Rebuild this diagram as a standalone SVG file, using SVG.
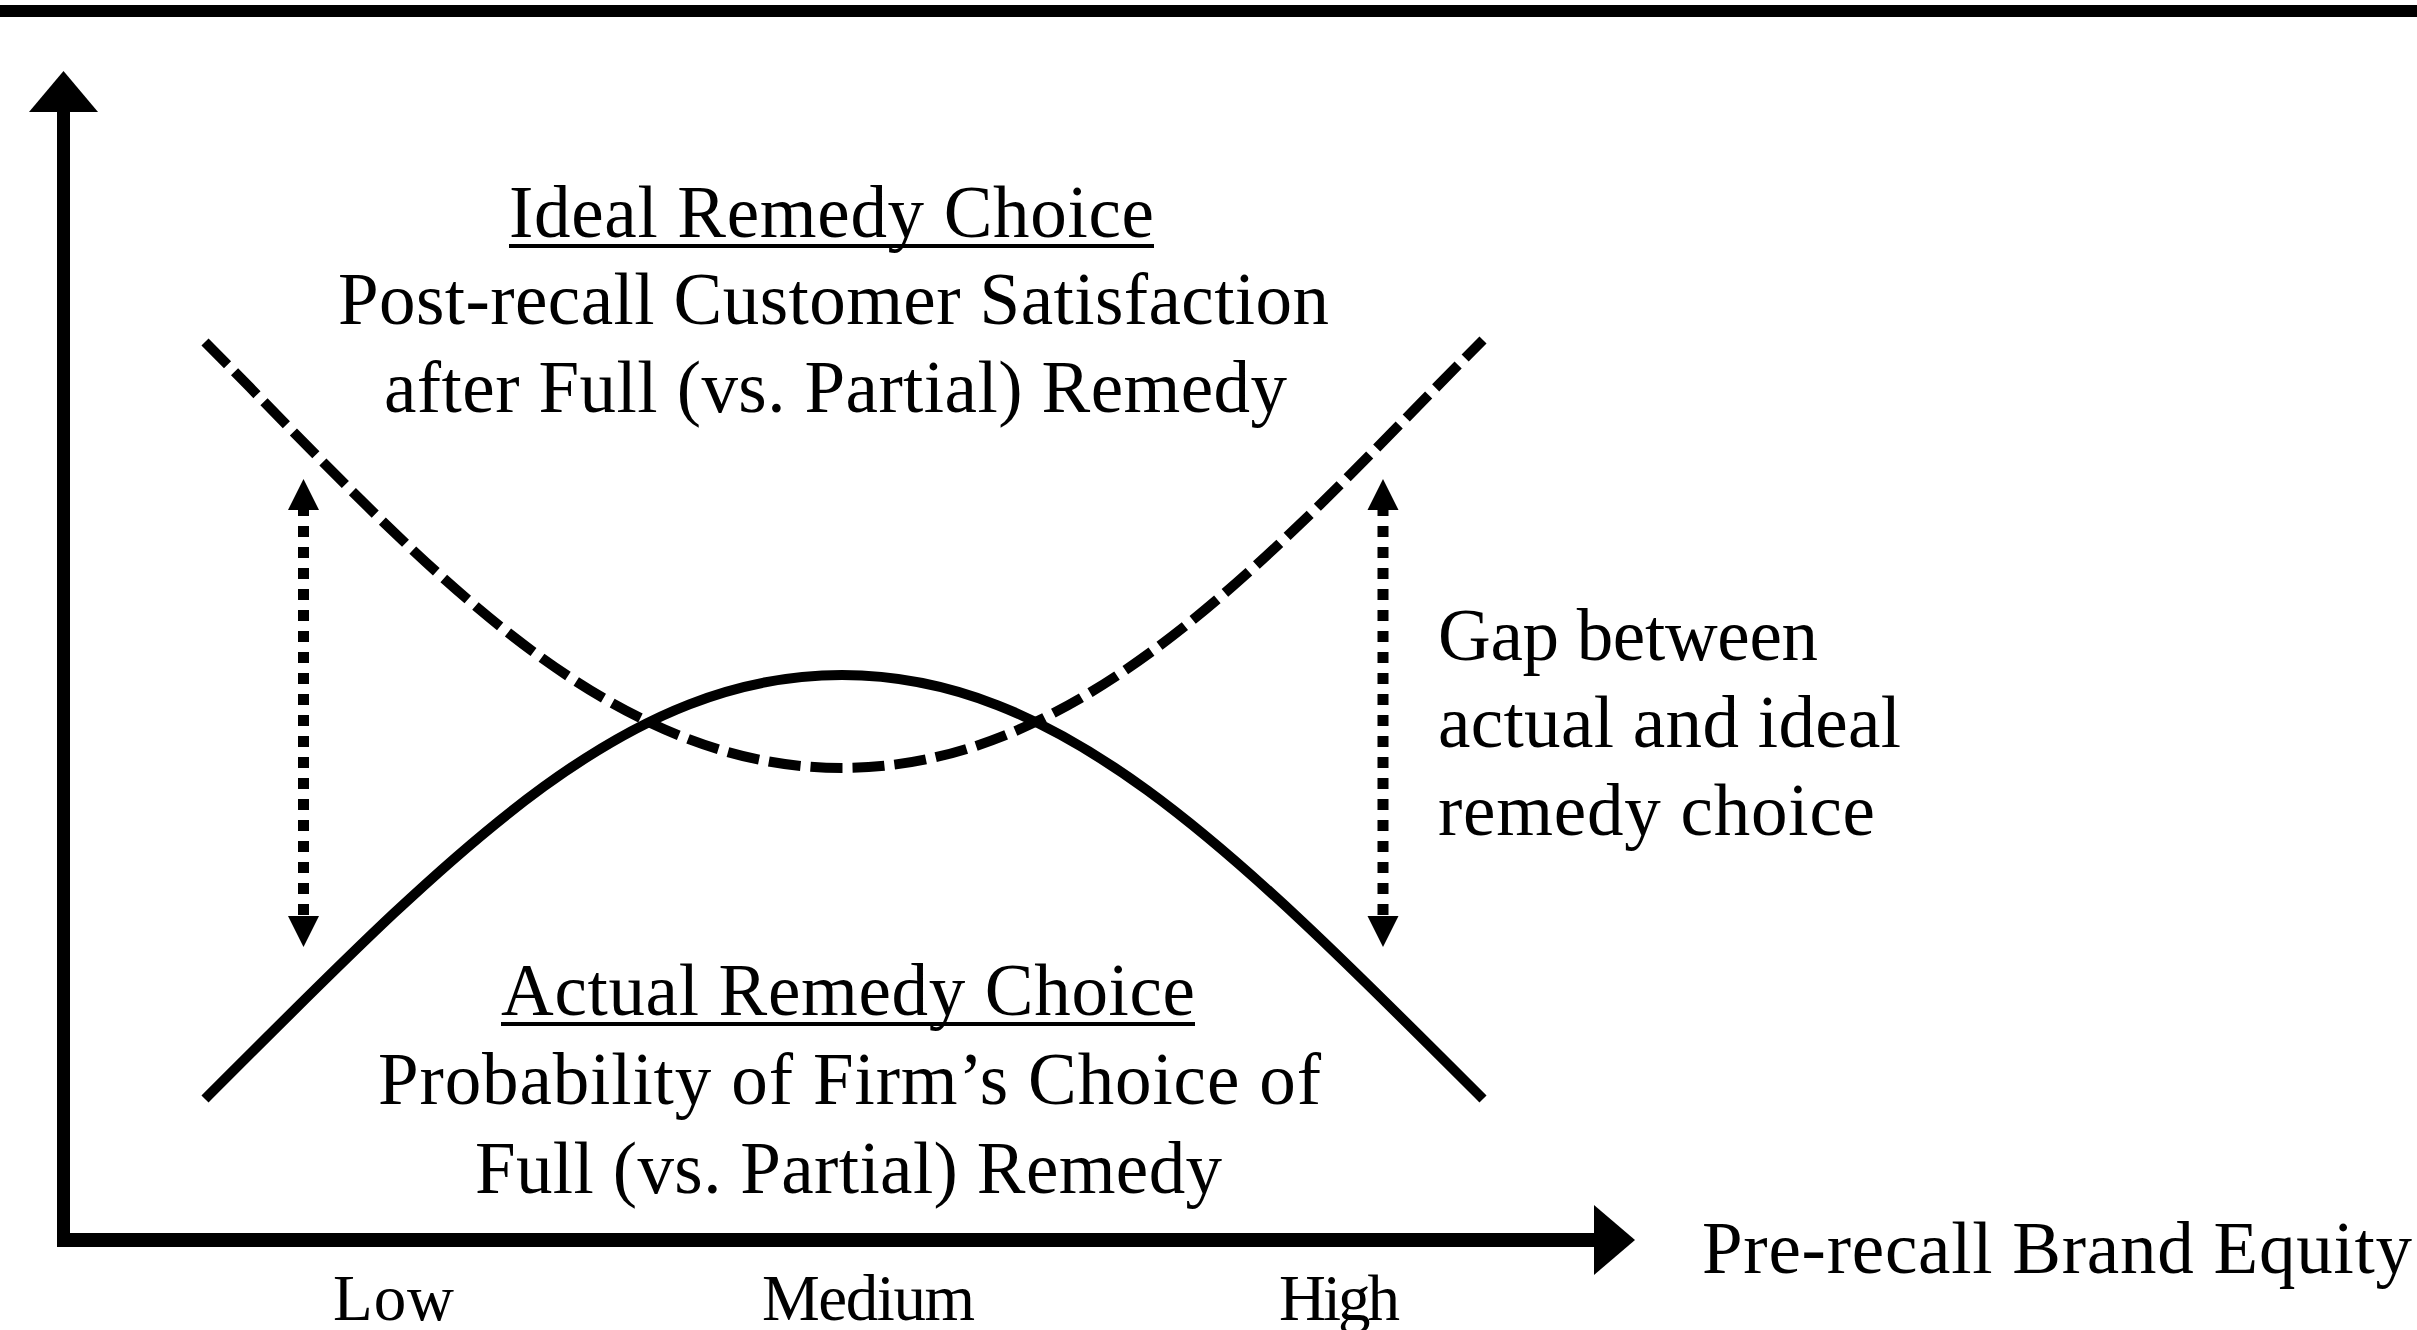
<svg xmlns="http://www.w3.org/2000/svg" width="2417" height="1330" viewBox="0 0 2417 1330">
<style>
text{font-family:"Liberation Serif","Times New Roman",serif;fill:#000}
.t{font-size:73px}
.s{font-size:65px}
.c{text-anchor:middle}
.curve{fill:none;stroke:#000;stroke-width:10}
.dash{stroke-dasharray:32 10}
.dot{stroke:#000;stroke-width:11;stroke-dasharray:11 10;fill:none}
</style>
<rect x="0" y="0" width="2417" height="1330" fill="#fff"/>
<rect x="0" y="5" width="2417" height="12" fill="#000"/>
<g id="axes">
<rect x="57" y="110" width="13" height="1137" fill="#000"/>
<polygon points="63.5,71 29,112 98,112" fill="#000"/>
<rect x="57" y="1233" width="1539" height="14" fill="#000"/>
<polygon points="1594,1205 1635,1240 1594,1275" fill="#000"/>
</g>
<g id="connectors">
<path id="ideal-curve" class="curve dash" d="M205,342 C405,542 592,768 842,768 C1092,768 1283,540 1483,340"/>
<path id="actual-curve" class="curve" d="M205,1099 C455,849 622,675 842,675 C1062,675 1233,849 1483,1099"/>
<g id="gap-left">
<line class="dot" x1="303.5" y1="505" x2="303.5" y2="916"/>
<polygon points="303.5,479 288,510 319,510" fill="#000"/>
<polygon points="303.5,947 288,916 319,916" fill="#000"/>
</g>
<g id="gap-right">
<line class="dot" x1="1383" y1="505" x2="1383" y2="916"/>
<polygon points="1383,479 1367.5,510 1398.5,510" fill="#000"/>
<polygon points="1383,947 1367.5,916 1398.5,916" fill="#000"/>
</g>
</g>
<g id="ideal-label">
<text class="t c" x="831.5" y="237" textLength="645" lengthAdjust="spacing">Ideal Remedy Choice</text>
<rect x="509" y="244" width="645" height="4" fill="#000"/>
<text class="t c" x="833.5" y="324" textLength="991" lengthAdjust="spacing">Post-recall Customer Satisfaction</text>
<text class="t c" x="835.5" y="412" textLength="903" lengthAdjust="spacing">after Full (vs. Partial) Remedy</text>
</g>
<g id="actual-label">
<text class="t c" x="848" y="1015" textLength="694" lengthAdjust="spacing">Actual Remedy Choice</text>
<rect x="501" y="1022" width="694" height="4" fill="#000"/>
<text class="t c" x="849.5" y="1104" textLength="943" lengthAdjust="spacing">Probability of Firm’s Choice of</text>
<text class="t c" x="848.5" y="1193" textLength="747" lengthAdjust="spacing">Full (vs. Partial) Remedy</text>
</g>
<g id="gap-label">
<text class="t" x="1438" y="660" textLength="380" lengthAdjust="spacing">Gap between</text>
<text class="t" x="1438" y="747" textLength="463" lengthAdjust="spacing">actual and ideal</text>
<text class="t" x="1438" y="835" textLength="437" lengthAdjust="spacing">remedy choice</text>
</g>
<g id="x-axis-label">
<text class="t" x="1702" y="1273" textLength="710" lengthAdjust="spacing">Pre-recall Brand Equity</text>
</g>
<g id="ticks">
<text class="s" x="333" y="1320" textLength="121" lengthAdjust="spacing">Low</text>
<text class="s" x="762" y="1320" textLength="213" lengthAdjust="spacing">Medium</text>
<text class="s" x="1279" y="1320" textLength="121" lengthAdjust="spacing">High</text>
</g>
</svg>
